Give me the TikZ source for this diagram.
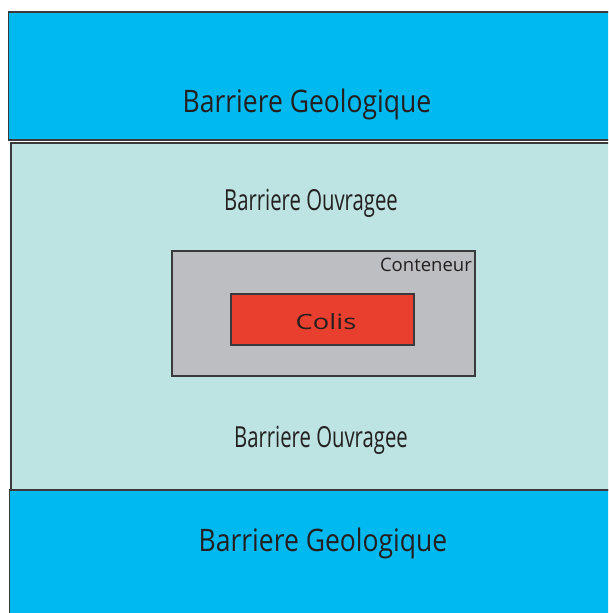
\documentclass[tikz,border=0pt]{standalone}
\usepackage{fontspec}
\setmainfont{Open Sans}
\usepackage{graphicx}

\definecolor{geoblue}{RGB}{0,185,239}
\definecolor{ouvteal}{RGB}{189,227,226}
\definecolor{contgrey}{RGB}{189,190,193}
\definecolor{colisred}{RGB}{232,63,46}
\definecolor{edge}{RGB}{58,58,60}
\definecolor{ink}{RGB}{35,31,32}

\begin{document}
\begin{tikzpicture}[x=1pt,y=-1pt,
    layer/.style={draw=edge, line width=1.4pt},
    label/.style={text=ink, inner sep=0pt, anchor=base}]
    \useasboundingbox (0,0) rectangle (608,613);
    \clip (0,0) rectangle (608,613);

    % couches
    \draw[layer, fill=geoblue](8.5,12) rectangle (640,140);
    \draw[layer, fill=ouvteal](11,143) rectangle (640,490);
    \draw[layer, fill=geoblue](9.5,490) rectangle (640,640);

    % conteneur et colis
    \draw[layer, fill=contgrey](172,251) rectangle (475,376);
    \draw[layer, fill=colisred](231,294) rectangle (414,345);

    \node[label, font=\fontsize{31}{34}\selectfont] (geoTop) at (307,112) {\scalebox{0.855}[1]{Barriere Geologique}};
    \node[label, font=\fontsize{29}{32}\selectfont] (ouvTop) at (311,210) {\scalebox{0.7}[1]{Barriere Ouvragee}};
    \node[label, font=\fontsize{18.5}{20}\selectfont, anchor=base east] (conteneur) at (472,271.5) {\scalebox{1.0}[1]{Conteneur}};
    \node[label, font=\fontsize{21}{24}\selectfont] (colis) at (326,329) {\scalebox{1.3}[1]{Colis}};
    \node[label, font=\fontsize{29}{32}\selectfont] (ouvBot) at (321,447) {\scalebox{0.7}[1]{Barriere Ouvragee}};
    \node[label, font=\fontsize{31}{34}\selectfont] (geoBot) at (323,551) {\scalebox{0.855}[1]{Barriere Geologique}};
\end{tikzpicture}
\end{document}
